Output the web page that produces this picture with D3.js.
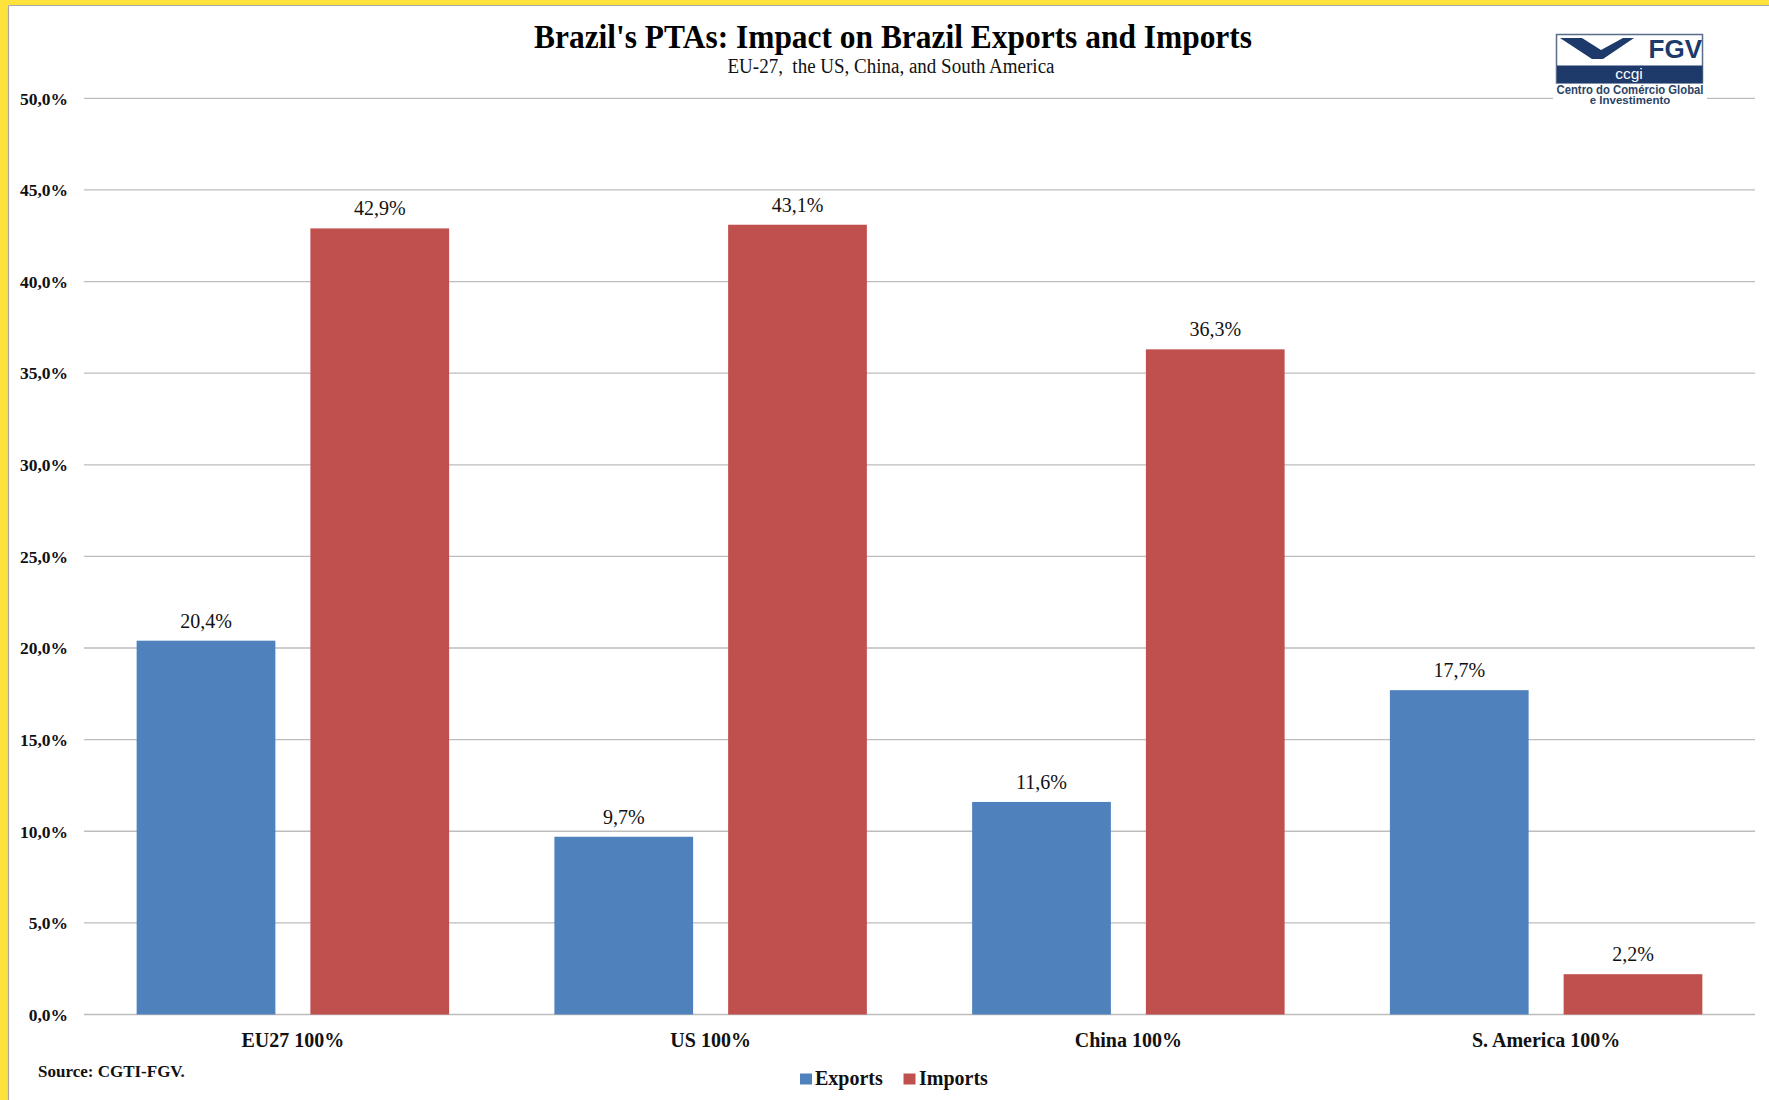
<!DOCTYPE html>
<html>
<head>
<meta charset="utf-8">
<script src="https://cdn.jsdelivr.net/npm/d3@7"></script>
<style>
  html, body { margin: 0; padding: 0; background: #fff; }
  svg { display: block; }
</style>
</head>
<body>
<svg id="chart" width="1769" height="1100"></svg>
<script>
// ---- Data ----
const categories = ["EU27 100%", "US 100%", "China 100%", "S. America 100%"];
const seriesNames = ["Exports", "Imports"];
const exportsValues = [20.4, 9.7, 11.6, 17.7];
const importsValues = [42.9, 43.1, 36.3, 2.2];
const yTicks = [0, 5, 10, 15, 20, 25, 30, 35, 40, 45, 50];
const titleText = "Brazil's PTAs: Impact on Brazil Exports and Imports";
const subtitleText = "EU-27,\u00a0 the US, China, and South America";
const sourceText = "Source: CGTI-FGV.";

// ---- Styles ----
const colors = { Exports: "#4F81BD", Imports: "#C0504D" };
const serif = "'Times New Roman', 'Liberation Serif', serif";
const sans = "Arial, 'Liberation Sans', sans-serif";

const svg = d3.select("#chart");
const W = 1769, H = 1100;
const plot = { left: 84, right: 1755, top: 98.3, bottom: 1014.5 };

const loc = d3.formatLocale({ decimal: ",", thousands: ".", grouping: [3], currency: ["", ""] });
const fmt = loc.format(".1f");
const pct = v => fmt(v) + "%";

svg.append("rect").attr("width", W).attr("height", H).attr("fill", "#fff");

// Frame (yellow border top & left)
svg.append("rect").attr("x", 0).attr("y", 0).attr("width", W).attr("height", 5).attr("fill", "#FFE23B");
svg.append("rect").attr("x", 0).attr("y", 0).attr("width", 8).attr("height", H).attr("fill", "#FFE23B");
svg.append("line").attr("x1", 8.5).attr("x2", W).attr("y1", 5.5).attr("y2", 5.5).attr("stroke", "#a8a8a8").attr("stroke-width", 1.2);
svg.append("line").attr("x1", 8.5).attr("x2", 8.5).attr("y1", 5.5).attr("y2", H).attr("stroke", "#a8a8a8").attr("stroke-width", 1.2);

// Scales
const y = d3.scaleLinear().domain([0, 50]).range([plot.bottom, plot.top]);
const x0 = d3.scaleBand().domain(categories).range([plot.left, plot.right]).paddingInner(0).paddingOuter(0);
const x1 = d3.scaleBand().domain(seriesNames).range([0, x0.bandwidth()]).paddingInner(0.2015).paddingOuter(0.303);

// Gridlines
svg.append("g").selectAll("line").data(yTicks).join("line")
  .attr("x1", plot.left).attr("x2", plot.right)
  .attr("y1", d => y(d)).attr("y2", d => y(d))
  .attr("stroke", "#BDBDBD").attr("stroke-width", 1.3);

// Y tick labels
svg.append("g").selectAll("text").data(yTicks).join("text")
  .attr("x", 68).attr("y", d => y(d) + 6.3)
  .attr("text-anchor", "end")
  .attr("font-family", serif).attr("font-weight", "bold").attr("font-size", 17.5)
  .attr("fill", "#111")
  .text(d => pct(d));

// Bars
const rows = categories.map((c, i) => ({ cat: c, vals: [
  { s: "Exports", v: exportsValues[i] },
  { s: "Imports", v: importsValues[i] }
]}));

const groups = svg.append("g").selectAll("g").data(rows).join("g")
  .attr("transform", d => `translate(${x0(d.cat)},0)`);

groups.selectAll("rect").data(d => d.vals).join("rect")
  .attr("x", d => x1(d.s))
  .attr("width", x1.bandwidth())
  .attr("y", d => y(d.v))
  .attr("height", d => y(0) - y(d.v))
  .attr("fill", d => colors[d.s]);

groups.selectAll("text.val").data(d => d.vals).join("text")
  .attr("class", "val")
  .attr("x", d => x1(d.s) + x1.bandwidth() / 2)
  .attr("y", d => y(d.v) - 13)
  .attr("text-anchor", "middle")
  .attr("font-family", serif).attr("font-size", 20)
  .attr("fill", "#111")
  .text(d => pct(d.v));

// Category labels
svg.append("g").selectAll("text").data(categories).join("text")
  .attr("x", d => x0(d) + x0.bandwidth() / 2)
  .attr("y", 1046.7)
  .attr("text-anchor", "middle")
  .attr("font-family", serif).attr("font-weight", "bold").attr("font-size", 20)
  .attr("fill", "#111")
  .text(d => d);

// Title / subtitle
svg.append("text").attr("x", 893).attr("y", 48)
  .attr("text-anchor", "middle")
  .attr("font-family", serif).attr("font-weight", "bold").attr("font-size", 33)
  .attr("textLength", 718).attr("lengthAdjust", "spacingAndGlyphs")
  .attr("fill", "#000")
  .text(titleText);
svg.append("text").attr("x", 891).attr("y", 72.5)
  .attr("text-anchor", "middle")
  .attr("font-family", serif).attr("font-size", 20)
  .attr("textLength", 327).attr("lengthAdjust", "spacingAndGlyphs")
  .attr("fill", "#111")
  .text(subtitleText);

// Source
svg.append("text").attr("x", 38).attr("y", 1077)
  .attr("font-family", serif).attr("font-weight", "bold").attr("font-size", 17)
  .attr("fill", "#111")
  .text(sourceText);

// Legend
const legendItems = [
  { s: "Exports", sx: 800, tx: 815 },
  { s: "Imports", sx: 903.5, tx: 919 }
];
const lg = svg.append("g");
lg.selectAll("rect").data(legendItems).join("rect")
  .attr("x", d => d.sx).attr("y", 1073.5).attr("width", 12).attr("height", 11)
  .attr("fill", d => colors[d.s]);
lg.selectAll("text").data(legendItems).join("text")
  .attr("x", d => d.tx).attr("y", 1085)
  .attr("font-family", serif).attr("font-weight", "bold").attr("font-size", 20)
  .attr("fill", "#111")
  .text(d => d.s);

// Logo
const navy = "#1D3A6B";
const logo = svg.append("g");
logo.append("rect").attr("x", 1553).attr("y", 84).attr("width", 154).attr("height", 22).attr("fill", "#fff");
logo.append("rect").attr("x", 1556.5).attr("y", 34.5).attr("width", 146).attr("height", 48.5)
  .attr("fill", "#fff").attr("stroke", "#5a6e8c").attr("stroke-width", 1.5);
logo.append("rect").attr("x", 1557).attr("y", 65.5).attr("width", 145.5).attr("height", 17.5).attr("fill", navy);
logo.append("path").attr("d", "M1560,38 L1582,38 L1601,50 L1623,38 L1634,38 L1603,59 L1592,59 Z").attr("fill", navy);
logo.append("text").attr("x", 1702).attr("y", 58).attr("text-anchor", "end")
  .attr("font-family", sans).attr("font-weight", "bold").attr("font-size", 26).attr("fill", navy).text("FGV");
logo.append("text").attr("x", 1629).attr("y", 79).attr("text-anchor", "middle")
  .attr("font-family", sans).attr("font-size", 15.5).attr("fill", "#fff").text("ccgi");
logo.append("text").attr("x", 1630).attr("y", 94).attr("text-anchor", "middle")
  .attr("font-family", sans).attr("font-weight", "bold").attr("font-size", 12)
  .attr("textLength", 147).attr("lengthAdjust", "spacingAndGlyphs")
  .attr("fill", "#2c4366").text("Centro do Comércio Global");
logo.append("text").attr("x", 1630).attr("y", 104).attr("text-anchor", "middle")
  .attr("font-family", sans).attr("font-weight", "bold").attr("font-size", 11.5)
  .attr("fill", "#2c4366").text("e Investimento");
</script>
</body>
</html>
